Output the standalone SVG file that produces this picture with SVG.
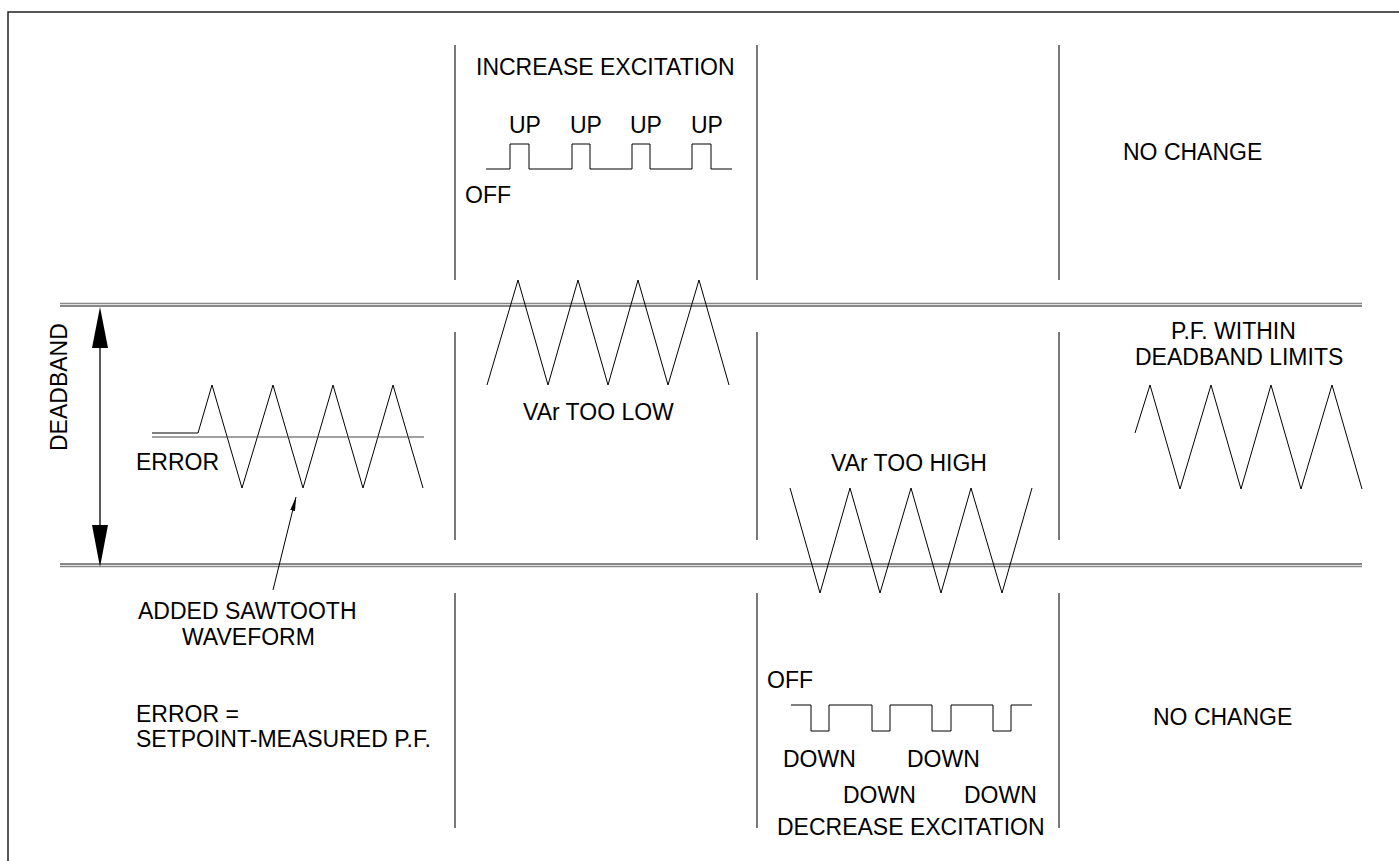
<svg xmlns="http://www.w3.org/2000/svg" width="1399" height="861" viewBox="0 0 1399 861">
<style>
text{font-family:"Liberation Sans",Arial,sans-serif;font-size:23px;fill:#000}
.w{fill:none;stroke:#000;stroke-width:1}
.div{stroke:#333;stroke-width:1.3}
.g{stroke:#888;stroke-width:1.6}
.k{stroke:#111;stroke-width:1.2}
</style>
<defs>
<marker id="ah" viewBox="0 0 14 5" refX="14" refY="2.5" markerWidth="14" markerHeight="5" markerUnits="userSpaceOnUse" orient="auto"><path d="M0,0 L14,2.5 L0,5 Z" fill="#000"/></marker>
</defs>
<rect width="1399" height="861" fill="#fff"/>
<g id="border"><path d="M8,870 V12 H1410" fill="none" stroke="#222" stroke-width="1.5"/></g>
<g id="deadband-limits">
<line x1="60" y1="303.5" x2="1362" y2="303.5" class="g"/>
<line x1="60" y1="306" x2="1362" y2="306" class="k"/>
<line x1="60" y1="564" x2="1362" y2="564" class="k"/>
<line x1="60" y1="566.5" x2="1362" y2="566.5" class="g"/>
</g>
<g id="dividers">
<path class="div" d="M455,45V280M455,332V540M455,593V828M757,45V280M757,332V540M757,593V828M1059,45V280M1059,332V540M1059,593V828"/>
</g>
<g id="deadband">
<line x1="100" y1="340" x2="100" y2="530" stroke="#000" stroke-width="1.3"/>
<path d="M100,307 L108,348 L92,348 Z M100,567 L108,525 L92,525 Z" fill="#000"/>
<text transform="translate(67,451) rotate(-90)">DEADBAND</text>
</g>
<g id="error-waveform">
<polyline class="w" points="152,433 198,433 212,385 242,488 273,385 303,488 333,385 363,488 393,385 423,488"/>
<line x1="152" y1="437" x2="424" y2="437" stroke="#444" stroke-width="1"/>
<text x="136" y="470">ERROR</text>
</g>
<g id="connectors">
<line x1="273" y1="590" x2="296" y2="497" stroke="#000" stroke-width="1" marker-end="url(#ah)"/>
</g>
<g id="sawtooth-label">
<text x="138" y="619">ADDED SAWTOOTH</text>
<text x="182" y="645">WAVEFORM</text>
</g>
<g id="error-definition">
<text x="136" y="722">ERROR =</text>
<text x="136" y="747">SETPOINT-MEASURED P.F.</text>
</g>
<g id="increase">
<text x="476" y="75">INCREASE EXCITATION</text>
<text x="509" y="133">UP</text>
<text x="570" y="133">UP</text>
<text x="630" y="133">UP</text>
<text x="691" y="133">UP</text>
<polyline class="w" points="486,169 510,169 510,144 529,144 529,169 572,169 572,144 590,144 590,169 632,169 632,144 650,144 650,169 692,169 692,144 711,144 711,169 732,169"/>
<text x="465" y="203">OFF</text>
</g>
<g id="var-low">
<polyline class="w" points="487,385 518,280 548,385 578,280 608,385 638,280 668,385 699,280 729,385"/>
<text x="523" y="420">VAr TOO LOW</text>
</g>
<g id="var-high">
<text x="831" y="471">VAr TOO HIGH</text>
<polyline class="w" points="790,488 820,593 850,488 880,593 911,488 941,593 971,488 1002,593 1032,488"/>
</g>
<g id="decrease">
<text x="767" y="688">OFF</text>
<polyline class="w" points="791,705 811,705 811,731 829,731 829,705 872,705 872,731 890,731 890,705 932,705 932,731 951,731 951,705 993,705 993,731 1011,731 1011,705 1032,705"/>
<text x="783" y="767">DOWN</text>
<text x="907" y="767">DOWN</text>
<text x="843" y="803">DOWN</text>
<text x="964" y="803">DOWN</text>
<text x="777" y="835">DECREASE EXCITATION</text>
</g>
<g id="no-change-top"><text x="1123" y="160">NO CHANGE</text></g>
<g id="within">
<text x="1171" y="339">P.F. WITHIN</text>
<text x="1135" y="365">DEADBAND LIMITS</text>
<polyline class="w" points="1135,433 1150,385 1180,489 1211,385 1241,489 1271,385 1301,489 1332,385 1362,489"/>
</g>
<g id="no-change-bottom"><text x="1153" y="725">NO CHANGE</text></g>
</svg>
